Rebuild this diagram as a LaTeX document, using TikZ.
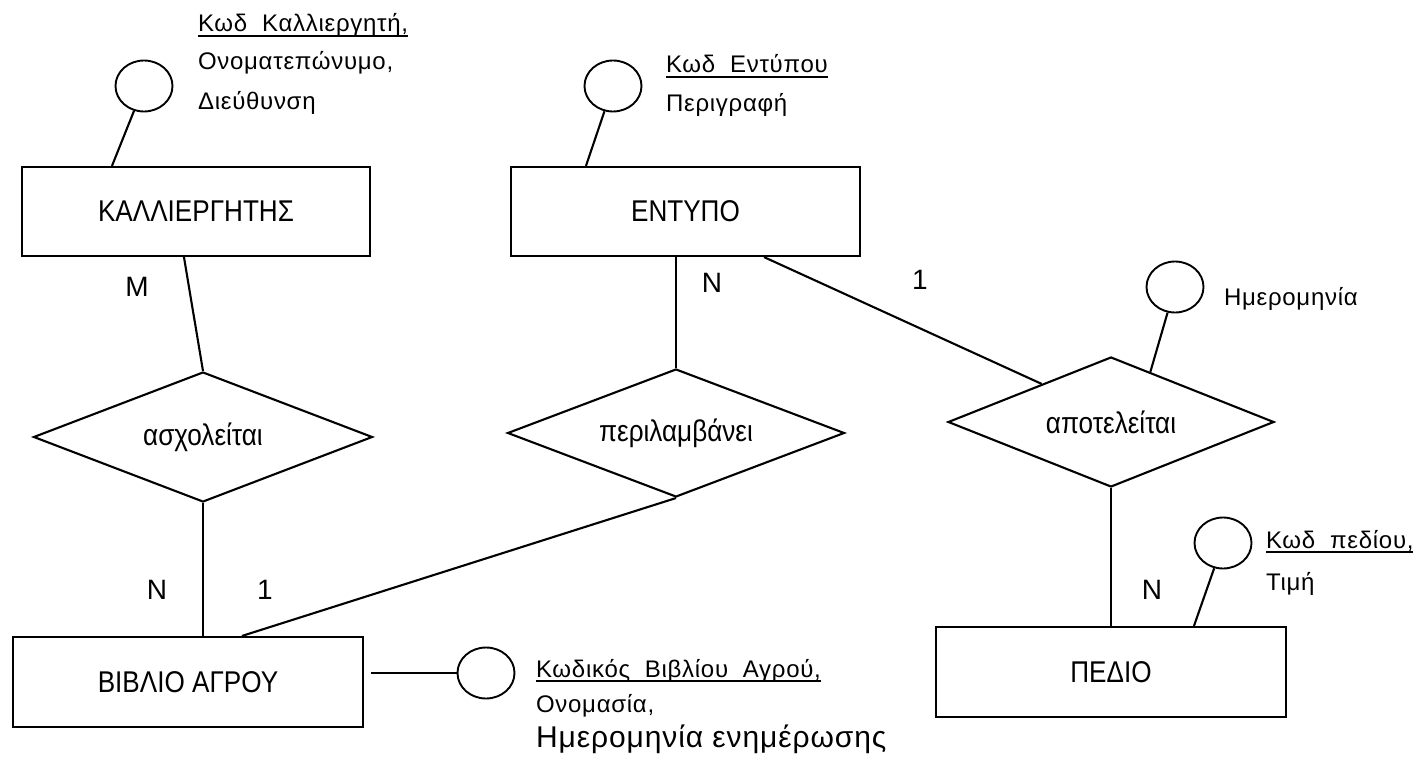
\documentclass[tikz,border=0pt]{standalone}
\usepackage{fontspec}
\setmainfont{Liberation Sans}
\newfontfamily\tallsans{Liberation Sans}[FakeStretch=0.87]
\newfontfamily\widesans{Liberation Sans}[LetterSpace=3]
\usetikzlibrary{shapes.geometric,calc}
% key attribute: text with a heavy underline
\newcommand\keyattr[1]{\setbox0\hbox{#1}\rlap{\rule[-5pt]{\wd0}{1.8pt}}\box0}
\begin{document}
\begin{tikzpicture}[x=1pt,y=-1pt,
  every path/.style={line width=2.1pt},
  entity/.style={draw, rectangle, line width=2.1pt, inner sep=0pt,
    font=\tallsans\fontsize{30}{34}\selectfont},
  relation/.style={draw, diamond, aspect=2.6, line width=2.1pt, inner sep=0pt,
    font=\tallsans\fontsize{30}{34}\selectfont},
  attrib/.style={draw, ellipse, line width=1.9pt, inner sep=0pt,
    minimum width=57pt, minimum height=51pt},
  attrtext/.style={anchor=base west, inner sep=0pt,
    font=\widesans\fontsize{24}{28}\selectfont},
  card/.style={inner sep=0pt, font=\fontsize{28}{32}\selectfont}]
\useasboundingbox (0,0) rectangle (1413,770);

% entities
\node[entity, minimum width=348pt, minimum height=89pt] (kal) at (196,211.5) {ΚΑΛΛΙΕΡΓΗΤΗΣ};
\node[entity, minimum width=349pt, minimum height=89pt] (ent) at (685.5,211.5) {ΕΝΤΥΠΟ};
\node[entity, minimum width=350pt, minimum height=90pt] (bib) at (188,682) {ΒΙΒΛΙΟ ΑΓΡΟΥ};
\node[entity, minimum width=350pt, minimum height=90pt] (ped) at (1111,672) {ΠΕΔΙΟ};

% relationships
\node[relation, minimum width=339pt, minimum height=130pt] (asx) at (203,437) {ασχολείται};
\node[relation, minimum width=337pt, minimum height=128pt] (per) at (676,433) {περιλαμβάνει};
\node[relation, minimum width=326pt, minimum height=130pt] (apo) at (1111,422) {αποτελείται};

% attribute circles
\node[attrib] (akal) at (144,86) {};
\node[attrib] (aent) at (613,86) {};
\node[attrib] (ahm)  at (1175,287) {};
\node[attrib] (aped) at (1223,543) {};
\node[attrib] (abib) at (486,673) {};

% attribute lists
\node[attrtext] (tk1) at (197,32)  {\keyattr{Κωδ\ \ Καλλιεργητή,}};
\node[attrtext] (tk2) at (197,70)  {Ονοματεπώνυμο,};
\node[attrtext] (tk3) at (197,110) {Διεύθυνση};
\node[attrtext] (te1) at (665,73)  {\keyattr{Κωδ\ \ Εντύπου}};
\node[attrtext] (te2) at (665,112) {Περιγραφή};
\node[attrtext] (th1) at (1223,305) {Ημερομηνία};
\node[attrtext] (tp1) at (1265,548) {\keyattr{Κωδ\ \ πεδίου,}};
\node[attrtext] (tp2) at (1265,590) {Τιμή};
\node[attrtext] (tb1) at (535,677) {\keyattr{Κωδικός\ \ Βιβλίου\ \ Αγρού,}};
\node[attrtext] (tb2) at (535,712) {Ονομασία,};
\node[attrtext, font=\widesans\fontsize{30}{34}\selectfont] (tb3) at (535,747) {Ημερομηνία ενημέρωσης};

% cardinalities
\node[card] (m1) at (137,287) {M};
\node[card] (n1) at (712,283) {N};
\node[card] (o1) at (920,280) {1};
\node[card] (n2) at (157,590) {N};
\node[card] (o2) at (265,590) {1};
\node[card] (n3) at (1152,590) {N};

% attachment points
\coordinate (kaltop) at ($(kal.north west)+(91,0)$);
\coordinate (kalbot) at ($(kal.south west)+(163,0)$);
\coordinate (enttop) at ($(ent.north west)+(76,0)$);
\coordinate (entbot) at ($(ent.south west)+(254,0)$);
\coordinate (bibtop) at ($(bib.north west)+(230,0)$);
\coordinate (pedtop) at ($(ped.north west)+(259,0)$);
\coordinate (apoin)  at ($(apo.west)!0.577!(apo.north)$);
\coordinate (apohm)  at ($(apo.north)!0.24!(apo.east)$);

% connectors
\draw (akal) -- (kaltop);
\draw (kalbot) -- (asx.north);
\draw (asx.south) -- (asx.south |- bib.north);
\draw (aent) -- (enttop);
\draw (per.north |- ent.south) -- (per.north);
\draw (per.south) -- (bibtop);
\draw (entbot) -- (apoin);
\draw (ahm) -- (apohm);
\draw (apo.south) -- (apo.south |- ped.north);
\draw (aped) -- (pedtop);
\draw[shorten <=7pt] (bib.east |- abib.west) -- (abib.west);
\end{tikzpicture}
\end{document}
